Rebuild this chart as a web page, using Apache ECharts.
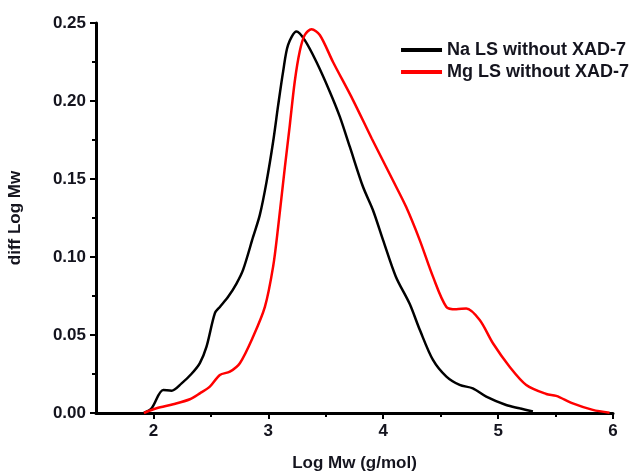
<!DOCTYPE html>
<html>
<head>
<meta charset="utf-8">
<script src="https://cdn.jsdelivr.net/npm/echarts@6/dist/echarts.min.js"></script>
<style>
  html, body { margin: 0; padding: 0; background: #fff; }
  #chart { width: 640px; height: 474px; }
</style>
</head>
<body>
<div id="chart"></div>
<script>
// Log Mw / diff Log Mw pairs
var naX = [1.917, 1.984, 2.085, 2.158, 2.245, 2.33, 2.404, 2.462, 2.535, 2.578, 2.65, 2.723, 2.78, 2.868, 2.926, 2.984, 3.042, 3.085, 3.129, 3.172, 3.245, 3.317, 3.419, 3.535, 3.622, 3.709, 3.824, 3.911, 3.998, 4.11, 4.23, 4.32, 4.433, 4.55, 4.665, 4.78, 4.897, 5.07, 5.187, 5.303];
var naY = [0, 0.003, 0.0147, 0.0143, 0.019, 0.025, 0.032, 0.0425, 0.064, 0.068, 0.0745, 0.083, 0.0917, 0.113, 0.127, 0.148, 0.174, 0.197, 0.219, 0.236, 0.2445, 0.239, 0.225, 0.206, 0.19, 0.1707, 0.145, 0.130, 0.111, 0.0874, 0.070, 0.053, 0.034, 0.0233, 0.018, 0.0158, 0.0105, 0.0051, 0.003, 0.001];

var mgX = [1.917, 2.027, 2.172, 2.317, 2.404, 2.491, 2.578, 2.665, 2.752, 2.868, 2.97, 3.042, 3.085, 3.143, 3.187, 3.23, 3.274, 3.317, 3.376, 3.448, 3.563, 3.737, 3.9, 4.085, 4.2, 4.317, 4.433, 4.55, 4.636, 4.723, 4.84, 4.955, 5.1, 5.245, 5.419, 5.506, 5.65, 5.824, 5.97];
var mgY = [0, 0.003, 0.0056, 0.0088, 0.0126, 0.0169, 0.0244, 0.0265, 0.0319, 0.049, 0.068, 0.094, 0.119, 0.157, 0.1846, 0.2125, 0.232, 0.2423, 0.246, 0.2423, 0.225, 0.2006, 0.176, 0.149, 0.132, 0.111, 0.0874, 0.068, 0.0665, 0.067, 0.0596, 0.0447, 0.0297, 0.018, 0.0122, 0.011, 0.0062, 0.002, 0.0002];

var xTicks = [2, 3, 4, 5, 6];
var xMinorTicks = [2.5, 3.5, 4.5, 5.5];

var seriesNames = ['Na LS without XAD-7', 'Mg LS without XAD-7'];

function pairs(xs, ys) {
  return xs.map(function (x, i) { return [x, ys[i]]; });
}

var textColor = '#14141e';
var labelFont = { fontFamily: 'Liberation Sans', fontWeight: 'bold', fontSize: 17, color: textColor };

var chart = echarts.init(document.getElementById('chart'));
chart.setOption({
  animation: false,
  grid: { left: 96, right: 27, top: 23, bottom: 61, outerBoundsMode: 'none', containLabel: false },
  legend: {
    data: seriesNames,
    orient: 'vertical',
    right: 6,
    top: 36,
    itemWidth: 41,
    itemHeight: 4,
    itemGap: 4,
    icon: 'rect',
    textStyle: { fontFamily: 'Liberation Sans', fontWeight: 'bold', fontSize: 18, color: textColor }
  },
  xAxis: [
    {
      type: 'value',
      min: 1.5,
      max: 6,
      name: 'Log Mw (g/mol)',
      nameLocation: 'middle',
      nameGap: 42,
      nameTextStyle: labelFont,
      axisLine: { onZero: false, lineStyle: { color: '#000', width: 3 } },
      axisTick: { show: true, inside: false, length: 6, customValues: xTicks, lineStyle: { color: '#000', width: 2 } },
      splitLine: { show: false },
      axisLabel: Object.assign({ margin: 10, customValues: xTicks }, labelFont)
    },
    {
      // second x axis only for the short half-unit ticks
      type: 'value',
      min: 1.5,
      max: 6,
      position: 'bottom',
      axisLine: { show: false },
      axisTick: { show: true, inside: false, length: 4, customValues: xMinorTicks, lineStyle: { color: '#000', width: 2 } },
      axisLabel: { show: false },
      splitLine: { show: false }
    }
  ],
  yAxis: {
    type: 'value',
    min: 0,
    max: 0.25,
    interval: 0.05,
    name: 'diff Log Mw',
    nameLocation: 'middle',
    nameGap: 72,
    nameTextStyle: labelFont,
    axisLine: { show: true, lineStyle: { color: '#000', width: 3 } },
    axisTick: { show: true, inside: false, length: 6, lineStyle: { color: '#000', width: 2 } },
    minorTick: { show: true, splitNumber: 2, length: 4, lineStyle: { color: '#000', width: 2 } },
    splitLine: { show: false },
    axisLabel: Object.assign({ margin: 10, formatter: function (v) { return v.toFixed(2); } }, labelFont)
  },
  series: [
    {
      name: seriesNames[0],
      type: 'line',
      data: pairs(naX, naY),
      smooth: 0.3,
      showSymbol: false,
      lineStyle: { color: '#000', width: 2.5 },
      itemStyle: { color: '#000' }
    },
    {
      name: seriesNames[1],
      type: 'line',
      data: pairs(mgX, mgY),
      smooth: 0.3,
      showSymbol: false,
      lineStyle: { color: '#ff0000', width: 2.5 },
      itemStyle: { color: '#ff0000' }
    }
  ]
});
</script>
</body>
</html>
